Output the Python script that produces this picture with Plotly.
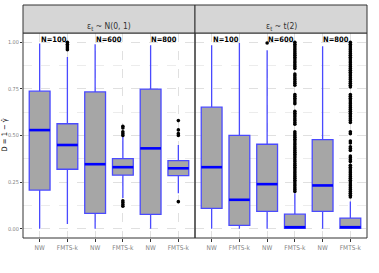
import plotly.graph_objects as go

categories = ["NW", "FMTS-k", "NW", "FMTS-k", "NW", "FMTS-k"]
group_labels = ["N=100", "N=600", "N=800"]
panel_titles = ["ε<sub>t</sub> ~ N(0, 1)", "ε<sub>t</sub> ~ t(2)"]
y_title = "D = 1 − γ̂"
y_ticks = [0, 0.25, 0.5, 0.75, 1.0]
y_ticklabels = ["0.00", "0.25", "0.50", "0.75", "1.00"]

# Panel 1: eps ~ N(0,1)
p1_low = [0.00, 0.025, 0.00, 0.164, 0.00, 0.19]
p1_q1 = [0.207, 0.319, 0.082, 0.287, 0.077, 0.285]
p1_med = [0.529, 0.449, 0.346, 0.330, 0.431, 0.324]
p1_q3 = [0.738, 0.563, 0.734, 0.376, 0.749, 0.365]
p1_high = [0.993, 0.921, 0.989, 0.497, 0.984, 0.449]
p1_out = {
    1: [0.96, 0.97, 0.98, 0.99, 1.0],
    3: [0.50, 0.51, 0.52, 0.54, 0.55, 0.12, 0.13, 0.14, 0.15],
    5: [0.58, 0.50, 0.51, 0.53, 0.145],
}

# Panel 2: eps ~ t(2)
p2_low = [0.00, 0.00, 0.00, 0.00, 0.00, 0.00]
p2_q1 = [0.109, 0.018, 0.093, 0.002, 0.093, 0.002]
p2_med = [0.330, 0.155, 0.239, 0.008, 0.232, 0.008]
p2_q3 = [0.652, 0.501, 0.453, 0.078, 0.478, 0.057]
p2_high = [0.984, 0.996, 0.957, 0.19, 0.979, 0.146]
p2_out = {
    2: [0.996],
    3: [0.20, 0.21, 0.22, 0.23, 0.24, 0.25, 0.26, 0.27, 0.28, 0.29, 0.30,
        0.31, 0.32, 0.33, 0.34, 0.35, 0.36, 0.37, 0.38, 0.39, 0.40, 0.41,
        0.42, 0.43, 0.44, 0.45, 0.46, 0.47, 0.48, 0.49, 0.50, 0.51, 0.52,
        0.56, 0.57, 0.58, 0.59, 0.60, 0.61, 0.62, 0.63, 0.67, 0.68, 0.69,
        0.70, 0.71, 0.72, 0.77, 0.78, 0.79, 0.80, 0.81, 0.82, 0.83, 0.86,
        0.87, 0.88, 0.89, 0.90, 0.91, 0.92, 0.93, 0.94, 0.95, 0.96, 0.97,
        0.98, 0.99, 1.00],
    5: [0.17, 0.18, 0.19, 0.20, 0.21, 0.22, 0.23, 0.24, 0.25, 0.26, 0.27,
        0.28, 0.29, 0.30, 0.31, 0.32, 0.33, 0.34, 0.36, 0.37, 0.38, 0.39,
        0.42, 0.43, 0.44, 0.46, 0.47, 0.51, 0.52, 0.57, 0.58, 0.59, 0.60,
        0.61, 0.62, 0.63, 0.64, 0.65, 0.66, 0.67, 0.68, 0.69, 0.70, 0.71,
        0.72, 0.76, 0.77, 0.78, 0.79, 0.80, 0.81, 0.82, 0.83, 0.84, 0.85,
        0.86, 0.87, 0.88, 0.89, 0.90, 0.91, 0.92, 0.93, 0.94, 0.95, 0.96,
        0.97, 0.98, 0.99, 1.00],
}

BOX_W = 0.75
FILL = "#a6a6a6"
EDGE = "#4a4aff"
MED = "#0000ff"
FONT = "Liberation Sans Narrow, DejaVu Sans Condensed, Roboto Condensed, Liberation Sans, sans-serif"

positions = list(range(len(categories)))

fig = go.Figure()

panels = [
    (p1_low, p1_q1, p1_med, p1_q3, p1_high, p1_out),
    (p2_low, p2_q1, p2_med, p2_q3, p2_high, p2_out),
]

for pi, (lo, q1, med, q3, hi, outs) in enumerate(panels):
    xa = "x" if pi == 0 else "x2"
    ya = "y" if pi == 0 else "y2"
    fig.add_trace(go.Box(
        x=positions, q1=q1, median=med, q3=q3, lowerfence=lo, upperfence=hi,
        width=BOX_W, fillcolor=FILL, line=dict(color=EDGE, width=1.3),
        whiskerwidth=0, boxpoints=False, xaxis=xa, yaxis=ya, showlegend=False,
        hoverinfo="skip",
    ))
    # thick median lines
    mx, my = [], []
    for p, m in zip(positions, med):
        mx += [p - BOX_W / 2, p + BOX_W / 2, None]
        my += [m, m, None]
    fig.add_trace(go.Scatter(x=mx, y=my, mode="lines",
                             line=dict(color=MED, width=2.6),
                             xaxis=xa, yaxis=ya, showlegend=False,
                             hoverinfo="skip"))
    # outliers
    ox, oy = [], []
    for p, vals in outs.items():
        ox += [p] * len(vals)
        oy += vals
    fig.add_trace(go.Scatter(x=ox, y=oy, mode="markers",
                             marker=dict(color="black", size=3.6),
                             xaxis=xa, yaxis=ya, showlegend=False,
                             hoverinfo="skip"))
    # N= labels
    for gi, lab in enumerate(group_labels):
        fig.add_annotation(x=2 * gi + 0.5, y=1.0, xref=xa, yref=ya,
                           text="<b>" + lab + "</b>", showarrow=False,
                           yshift=3, font=dict(size=7.5, color="black",
                                               family=FONT))

axis_common = dict(
    range=[-0.6, 5.6], tickmode="array", tickvals=positions,
    ticktext=categories, showgrid=True, gridcolor="#e0e0e0", griddash="dash",
    gridwidth=0.8, ticks="outside", ticklen=3, tickcolor="#333333",
    tickfont=dict(size=6.5, color="#7f7f7f", family=FONT), zeroline=False,
    showline=False, automargin=False,
)
yaxis_common = dict(
    range=[-0.05, 1.05], tickmode="array", tickvals=y_ticks,
    showgrid=True, gridcolor="#e0e0e0", griddash="dash", gridwidth=0.8,
    minor=dict(tickvals=[0.125, 0.375, 0.625, 0.875], showgrid=True,
               gridcolor="#ececec", griddash="dash", gridwidth=0.8),
    zeroline=False, showline=False, automargin=False,
)

fig.update_layout(
    width=379, height=273,
    margin=dict(l=23, r=12, t=33, b=35),
    paper_bgcolor="white", plot_bgcolor="white",
    xaxis=dict(domain=[0, 0.5], anchor="y", **axis_common),
    xaxis2=dict(domain=[0.5, 1], anchor="y2", **axis_common),
    yaxis=dict(domain=[0, 1], anchor="x", ticks="outside", ticklen=2,
               tickcolor="#333333", ticktext=y_ticklabels,
               tickfont=dict(size=5.5, color="#7f7f7f", family=FONT),
               **yaxis_common),
    yaxis2=dict(domain=[0, 1], anchor="x2", matches="y", ticks="",
                showticklabels=False, **yaxis_common),
    boxmode="overlay",
)

fig.add_annotation(xref="paper", yref="paper", x=0, y=0.5, xshift=-19,
                   xanchor="center", yanchor="middle",
                   text=y_title, textangle=-90, showarrow=False,
                   font=dict(size=7.5, color="black", family=FONT))

strip_h = 28 / 205
for pi, title in enumerate(panel_titles):
    xref = "x domain" if pi == 0 else "x2 domain"
    yref = "y domain" if pi == 0 else "y2 domain"
    # panel border
    fig.add_shape(type="rect", xref=xref, yref=yref, x0=0, x1=1, y0=0, y1=1,
                  line=dict(color="#333333", width=1), fillcolor="rgba(0,0,0,0)",
                  layer="above")
    # strip
    fig.add_shape(type="rect", xref=xref, yref=yref, x0=0, x1=1, y0=1,
                  y1=1 + strip_h, line=dict(color="#333333", width=1),
                  fillcolor="#d6d6d6", layer="above")
    fig.add_annotation(xref=xref, yref=yref, x=0.5, y=1 + strip_h / 2,
                       text=title, showarrow=False,
                       font=dict(size=8.5, color="#333333", family=FONT))

fig.write_html("out.html", config={"displayModeBar": False},
               post_script="document.body.style.margin='0';"
                           "document.body.style.overflow='hidden';")
